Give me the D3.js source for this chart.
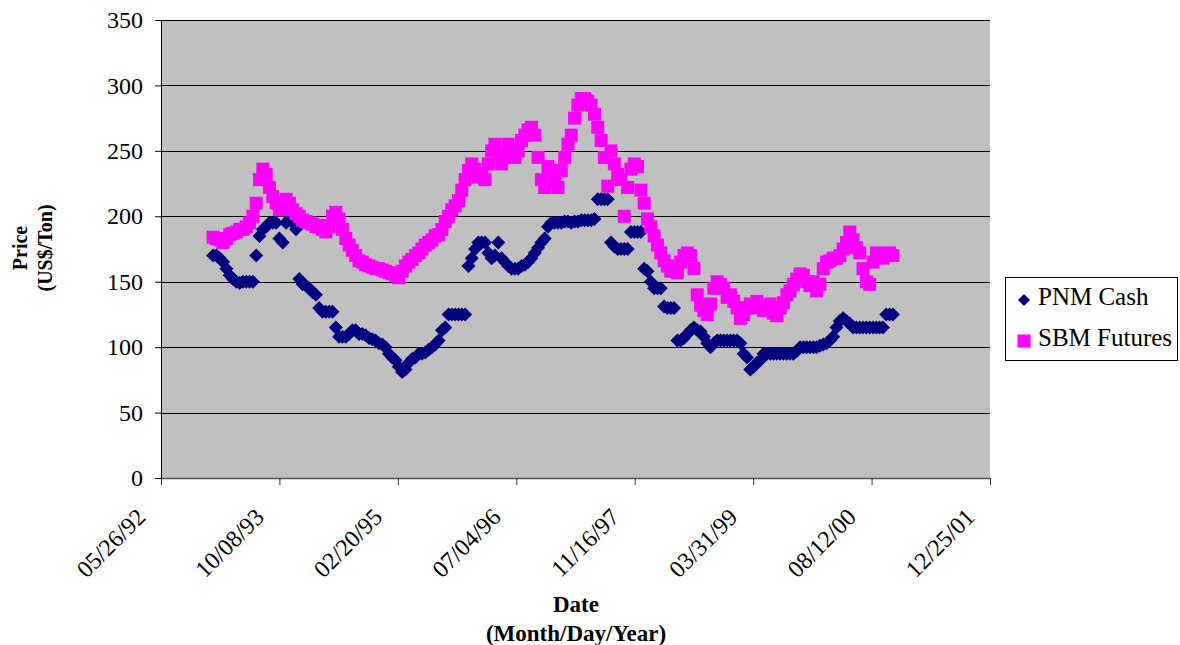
<!DOCTYPE html>
<html>
<head>
<meta charset="utf-8">
<script src="https://cdn.jsdelivr.net/npm/d3@7"></script>
<style>
  body { margin: 0; background: #fff; }
  text { font-family: "Liberation Serif", "Times New Roman", serif; fill: #000; }
  .tick text { font-size: 24px; }
  .axisLabel { font-size: 23px; font-weight: bold; }
  .legendLabel { font-size: 25px; }
</style>
</head>
<body>
<div id="chart"></div>
<script>
// sampling: one reading every 14 days starting 01/01/93
const startDate = Date.UTC(1993, 0, 1);
const stepDays = 14;

// PNM Cash (US$/Ton)
const pnmCash = [
  170, 170, 168, 165, 160, 155, 152, 150, 149, 150, 150, 150, 150, 170, 185, 190,
  192, 195, 195, 195, 183, 180, 195, 198, 195, 190, 152, 148, 147, 145, 142, 140,
  130, 127, 127, 127, 127, 115, 108, 108, 108, 110, 113, 113, 110, 110, 109, 107,
  106, 105, 103, 102, 100, 95, 92, 90, 85, 81, 83, 88, 91, 92, 95, 95,
  96, 98, 100, 102, 105, 113, 115, 125, 125, 125, 125, 125, 125, 162, 168, 175,
  180, 180, 180, 172, 168, 170, 180, 168, 165, 162, 160, 160, 160, 162, 163, 165,
  168, 172, 176, 180, 183, 192, 195, 195, 195, 195, 196, 196, 195, 196, 196, 197,
  197, 197, 197, 198, 213, 213, 213, 213, 180, 177, 175, 175, 175, 175, 188, 188,
  188, 188, 160, 158, 150, 145, 145, 145, 131, 130, 130, 130, 105, 105, 107, 110,
  113, 115, 113, 112, 108, 103, 100, 103, 105, 105, 105, 105, 105, 105, 105, 103,
  95, 92, 83, 85, 88, 90, 95, 95, 95, 95, 95, 95, 95, 95, 95, 95,
  97, 100, 100, 100, 100, 100, 100, 101, 102, 103, 105, 108, 115, 120, 122, 120,
  118, 115, 115, 115, 115, 115, 115, 115, 115, 115, 115, 125, 125, 125
];

// SBM Futures (US$/Ton)
const sbmFutures = [
  184, 183, 182, 180, 183, 186, 187, 188, 190, 190, 192, 195, 200, 210, 228, 236,
  232, 222, 215, 210, 205, 208, 213, 210, 205, 202, 200, 197, 196, 195, 194, 192,
  193, 190, 188, 192, 200, 203, 198, 190, 183, 178, 174, 170, 166, 165, 163, 162,
  161, 160, 160, 159, 158, 157, 156, 155, 153, 158, 162, 165, 167, 170, 172, 175,
  178, 180, 182, 185, 186, 190, 196, 200, 205, 208, 212, 220, 228, 235, 240, 236,
  230, 232, 228, 240, 250, 255, 248, 240, 245, 255, 250, 245, 250, 258, 262, 266,
  268, 262, 245, 228, 222, 238, 235, 226, 222, 235, 245, 255, 262, 275, 285, 290,
  290, 288, 285, 278, 268, 258, 245, 223, 250, 240, 232, 228, 200, 222, 236, 240,
  238, 220, 210, 198, 192, 185, 178, 172, 166, 162, 158, 160, 157, 165, 170, 172,
  170, 160, 140, 132, 128, 125, 133, 145, 150, 148, 145, 138, 140, 135, 130, 122,
  125, 130, 133, 130, 135, 132, 128, 130, 133, 126, 124, 130, 134, 140, 143, 148,
  152, 156, 155, 150, 147, 150, 143, 148, 160, 165, 166, 168, 168, 170, 175, 180,
  188, 182, 176, 172, 160, 150, 148, 165, 172, 170, 168, 171, 172, 170
];

const seriesNames = ["PNM Cash", "SBM Futures"];
const seriesColors = ["#000080", "#FF00FF"];

const axisStart = Date.UTC(1992, 4, 26);
const tickStepDays = 500;
const yTicks = [0, 50, 100, 150, 200, 250, 300, 350];

const DAY = 864e5;

const width = 1180;
const height = 645;
const margin = {top: 20, left: 161, right: 190, bottom: 167};

const svg = d3.select("#chart")
    .append("svg")
    .attr("width", width)
    .attr("height", height);

const xTicks = d3.range(8).map(function(k) { return new Date(axisStart + k * tickStepDays * DAY); });

const xScale = d3.scaleUtc()
    .domain([xTicks[0], xTicks[xTicks.length - 1]])
    .range([margin.left, width - margin.right]);

const yScale = d3.scaleLinear()
    .domain([0, 350])
    .range([height - margin.bottom, margin.top]);

function toPoints(values) {
    return values.map(function(v, i) {
        return {date: new Date(startDate + i * stepDays * DAY), value: v};
    });
}

// plot background
svg.append("rect")
    .attr("x", margin.left)
    .attr("y", margin.top)
    .attr("width", width - margin.left - margin.right)
    .attr("height", height - margin.top - margin.bottom)
    .attr("fill", "#C0C0C0");

// gridlines
svg.append("g")
    .selectAll("line")
    .data(yTicks.slice(1))
    .join("line")
        .attr("x1", margin.left)
        .attr("x2", width - margin.right)
        .attr("y1", function(d) { return Math.round(yScale(d)) + 0.5; })
        .attr("y2", function(d) { return Math.round(yScale(d)) + 0.5; })
        .attr("stroke", "#000")
        .attr("stroke-width", 1);

// markers
const diamond = "M0,-7L7,0L0,7L-7,0Z";
const square = "M-6.5,-6.5H6.5V6.5H-6.5Z";

svg.append("g")
    .selectAll("path")
    .data(toPoints(pnmCash))
    .join("path")
        .attr("d", diamond)
        .attr("transform", function(d) { return `translate(${xScale(d.date)},${yScale(d.value)})`; })
        .attr("fill", seriesColors[0]);

svg.append("g")
    .selectAll("path")
    .data(toPoints(sbmFutures))
    .join("path")
        .attr("d", square)
        .attr("transform", function(d) { return `translate(${xScale(d.date)},${yScale(d.value)})`; })
        .attr("fill", seriesColors[1]);

// axes
const xAxis = svg.append("g")
    .attr("class", "axis")
    .attr("transform", `translate(0,${height - margin.bottom})`)
    .call(d3.axisBottom(xScale)
        .tickValues(xTicks)
        .tickFormat(d3.utcFormat("%m/%d/%y"))
        .tickSize(7)
        .tickSizeOuter(0));

xAxis.select(".domain").attr("stroke", "#555").attr("stroke-width", 1.5);
xAxis.selectAll(".tick line").attr("stroke", "#333");
xAxis.selectAll("text")
    .attr("text-anchor", "end")
    .attr("x", -39)
    .attr("y", 10)
    .attr("dy", "0.35em")
    .attr("transform", "rotate(-45)");

const yAxis = svg.append("g")
    .attr("class", "axis")
    .attr("transform", `translate(${margin.left},0)`)
    .call(d3.axisLeft(yScale)
        .tickValues(yTicks)
        .tickSize(6)
        .tickPadding(12)
        .tickSizeOuter(0));

yAxis.select(".domain").attr("stroke", "#000");
yAxis.selectAll(".tick line").attr("stroke", "#000");

// axis labels
svg.append("text")
    .attr("class", "axisLabel")
    .attr("x", 576)
    .attr("y", 612)
    .attr("text-anchor", "middle")
    .text("Date");

svg.append("text")
    .attr("class", "axisLabel")
    .attr("x", 576)
    .attr("y", 641)
    .attr("text-anchor", "middle")
    .text("(Month/Day/Year)");

svg.append("text")
    .attr("class", "axisLabel")
    .attr("transform", "translate(27,248) rotate(-90)")
    .attr("text-anchor", "middle")
    .style("font-size", "20px")
    .text("Price");

svg.append("text")
    .attr("class", "axisLabel")
    .attr("transform", "translate(52,248) rotate(-90)")
    .attr("text-anchor", "middle")
    .style("font-size", "20px")
    .text("(US$/Ton)");

// legend
const legend = svg.append("g");

legend.append("rect")
    .attr("x", 1005.5)
    .attr("y", 277.5)
    .attr("width", 172)
    .attr("height", 83)
    .attr("fill", "#fff")
    .attr("stroke", "#000");

const legendItems = legend.selectAll("g.item")
    .data(seriesNames)
    .join("g")
        .attr("class", "item")
        .attr("transform", function(d, i) { return `translate(1024,${300 + i * 41})`; });

legendItems.append("path")
    .attr("d", function(d, i) { return i === 0 ? "M0,-6L6,0L0,6L-6,0Z" : square; })
    .attr("fill", function(d, i) { return seriesColors[i]; });

legendItems.append("text")
    .attr("class", "legendLabel")
    .attr("x", 14)
    .attr("y", 0)
    .attr("dy", "0.2em")
    .text(function(d) { return d; });
</script>
</body>
</html>
